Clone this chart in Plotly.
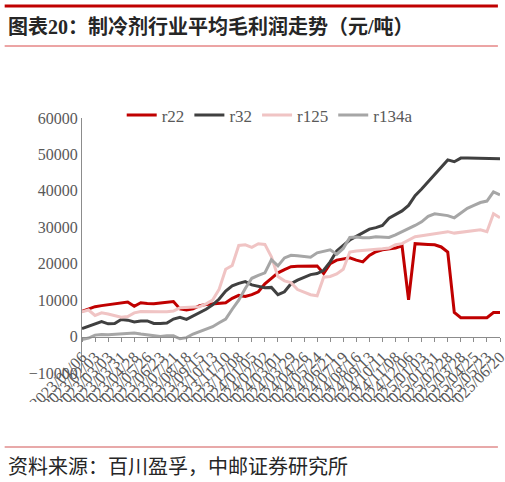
import plotly.graph_objects as go

# 双周数据点
dates = [
    "2023/01/06", "2023/01/20", "2023/02/03", "2023/02/17", "2023/03/03", "2023/03/17",
    "2023/03/31", "2023/04/14", "2023/04/28", "2023/05/12", "2023/05/26", "2023/06/09",
    "2023/06/23", "2023/07/07", "2023/07/21", "2023/08/04", "2023/08/18", "2023/09/01",
    "2023/09/15", "2023/09/29", "2023/10/13", "2023/10/27", "2023/11/10", "2023/11/24",
    "2023/12/08", "2023/12/22", "2024/01/05", "2024/01/19", "2024/02/02", "2024/02/16",
    "2024/03/01", "2024/03/15", "2024/03/29", "2024/04/12", "2024/04/26", "2024/05/10",
    "2024/05/24", "2024/06/07", "2024/06/21", "2024/07/05", "2024/07/19", "2024/08/02",
    "2024/08/16", "2024/08/30", "2024/09/13", "2024/09/27", "2024/10/11", "2024/10/25",
    "2024/11/08", "2024/11/22", "2024/12/06", "2024/12/20", "2025/01/03", "2025/01/17",
    "2025/01/31", "2025/02/14", "2025/02/28", "2025/03/14", "2025/03/28", "2025/04/11",
    "2025/04/25", "2025/05/09", "2025/05/23", "2025/06/06", "2025/06/20",
]

r22 = [
    6900, 7500, 8200, 8500, 8800, 9000, 9200, 9500, 8300, 9300,
    9100, 9000, 9200, 9400, 9600, 7600, 7300, 7600, 8500, 8800,
    9000, 9000, 9300, 10500, 11300, 11000, 11500, 12300, 14500, 16000,
    17500, 18400, 19200, 19300, 19300, 19300, 19400, 17300, 20000, 21000,
    21300, 21600, 21000, 20500, 22300, 23300, 23800, 24000, 24300, 24900,
    10100, 25500, 25300, 25300, 25200, 24600, 23200, 6600, 5200, 5200,
    5200, 5000, 5200, 6600, 6600,
]
r32 = [
    2200, 2900, 3500, 4100, 3500, 3600, 4700, 4500, 4000, 4300,
    4300, 3600, 3600, 3700, 4800, 5300, 4700, 5600, 6600, 7500,
    8700, 10300, 12500, 13900, 14600, 15100, 14200, 13800, 13400, 13500,
    11500, 12300, 14500, 15500, 16200, 17000, 17300, 18200, 20500, 23500,
    25000, 26500, 27500, 28400, 29500, 29900, 30500, 32500, 33400, 34500,
    36000, 38700, 40500, 42500, 44500, 46500, 48500, 48000, 49000, 49000,
    49000, 49000, 48800, 48800, 48800,
]
r125 = [
    6800, 7300, 5800, 6500, 6200, 5800, 5300, 5500, 6500, 6900,
    6800, 6700, 6800, 6800, 7000, 7900, 8000, 8000, 8200, 9000,
    10000, 13000, 18500, 19500, 25000, 25200, 24500, 25500, 25300, 21900,
    16500, 15300, 14800, 12900, 12300, 11500, 11200, 16300, 16500, 17200,
    18500, 23200, 23500, 23600, 23800, 23900, 24100, 24300, 25200, 25500,
    26500, 27400, 27700, 28000, 28300, 28500, 28800, 28400, 28600, 28900,
    29100, 29300, 28800, 33700, 32600,
]
r134a = [
    -800, -400, 400, 600, 500, 600, 700, 1000, 1000, 700,
    400, 100, 0, 200, 200, -600, -300, 700, 1400, 1900,
    2700, 3800, 4800, 7500, 10000, 13200, 16000, 16800, 17500, 21100,
    19400, 21600, 22300, 22200, 21900, 21800, 23000, 23500, 23800, 22600,
    24200, 27200, 27300, 27100, 27100, 27400, 27300, 27200, 27900, 28700,
    29500, 30500, 31500, 33000, 33700, 33500, 33200, 32600, 34000, 35200,
    36000, 36800, 37200, 39700, 38900,
]

series = [
    ("r22", r22, "#C00000"),
    ("r32", r32, "#404040"),
    ("r125", r125, "#F0C4C4"),
    ("r134a", r134a, "#A6A6A6"),
]

serif = "Liberation Serif, Times New Roman, serif"
cjk = "Liberation Serif, Noto Sans CJK SC, sans-serif"

fig = go.Figure()
for name, values, color in series:
    fig.add_trace(
        go.Scatter(
            x=dates,
            y=values,
            mode="lines",
            name=name,
            line=dict(color=color, width=3),
        )
    )

fig.update_layout(
    width=505,
    height=482,
    paper_bgcolor="white",
    plot_bgcolor="white",
    margin=dict(l=82, r=5, t=118, b=109, autoexpand=False),
    font=dict(family=serif, size=16, color="#595959"),
    showlegend=True,
    legend=dict(
        orientation="h",
        x=0.095,
        xanchor="left",
        y=1.01,
        yanchor="middle",
        font=dict(family=serif, size=17, color="#595959"),
        itemwidth=30,
        bgcolor="rgba(0,0,0,0)",
        tracegroupgap=0,
    ),
    xaxis=dict(
        type="category",
        range=[0, len(dates) - 1],
        anchor="free",
        position=1 / 7,
        showline=True,
        linecolor="#8C8C8C",
        linewidth=1,
        ticks="outside",
        ticklen=4,
        tickcolor="#8C8C8C",
        tickangle=-45,
        tickmode="array",
        tickvals=dates[::2],
        ticktext=dates[::2],
        tickfont=dict(family=serif, size=16, color="#595959"),
        showgrid=False,
    ),
    yaxis=dict(
        range=[-10000, 60000],
        dtick=10000,
        tickformat="d",
        showline=True,
        linecolor="#8C8C8C",
        linewidth=1,
        zeroline=False,
        showgrid=False,
        ticks="",
        tickfont=dict(family=serif, size=16, color="#595959"),
    ),
)

# 标题与来源
fig.add_shape(type="line", xref="paper", yref="paper", x0=-0.185, x1=0.995,
              y0=1 + 112 / 255, y1=1 + 112 / 255, line=dict(color="#C00000", width=3),
              layer="above")
fig.add_shape(type="line", xref="paper", yref="paper", x0=-0.185, x1=0.995,
              y0=1 + 72 / 255, y1=1 + 72 / 255, line=dict(color="#D94A4A", width=1),
              layer="above")
fig.add_shape(type="rect", xref="paper", yref="paper", x0=-0.3, x1=1.05,
              y0=-44 / 255, y1=-29 / 255, line=dict(width=0), fillcolor="white",
              layer="above")
fig.add_shape(type="line", xref="paper", yref="paper", x0=-0.185, x1=0.995,
              y0=-74 / 255, y1=-74 / 255, line=dict(color="#E08C8C", width=1.5),
              layer="above")
fig.add_annotation(
    text="<b>图表20：制冷剂行业平均毛利润走势（元/吨）</b>",
    xref="paper", yref="paper", x=-0.182, y=1 + 91 / 255,
    xanchor="left", yanchor="middle", showarrow=False,
    font=dict(family=cjk, size=20, color="#262626"),
)
fig.add_annotation(
    text="资料来源：百川盈孚，中邮证券研究所",
    xref="paper", yref="paper", x=-0.182, y=-94 / 255,
    xanchor="left", yanchor="middle", showarrow=False,
    font=dict(family=cjk, size=20, color="#262626"),
)

# 去掉页面默认边距，使图从左上角开始
fig.write_html(
    "out.html",
    config={"displayModeBar": False},
    post_script="document.body.style.margin='0px';",
)
